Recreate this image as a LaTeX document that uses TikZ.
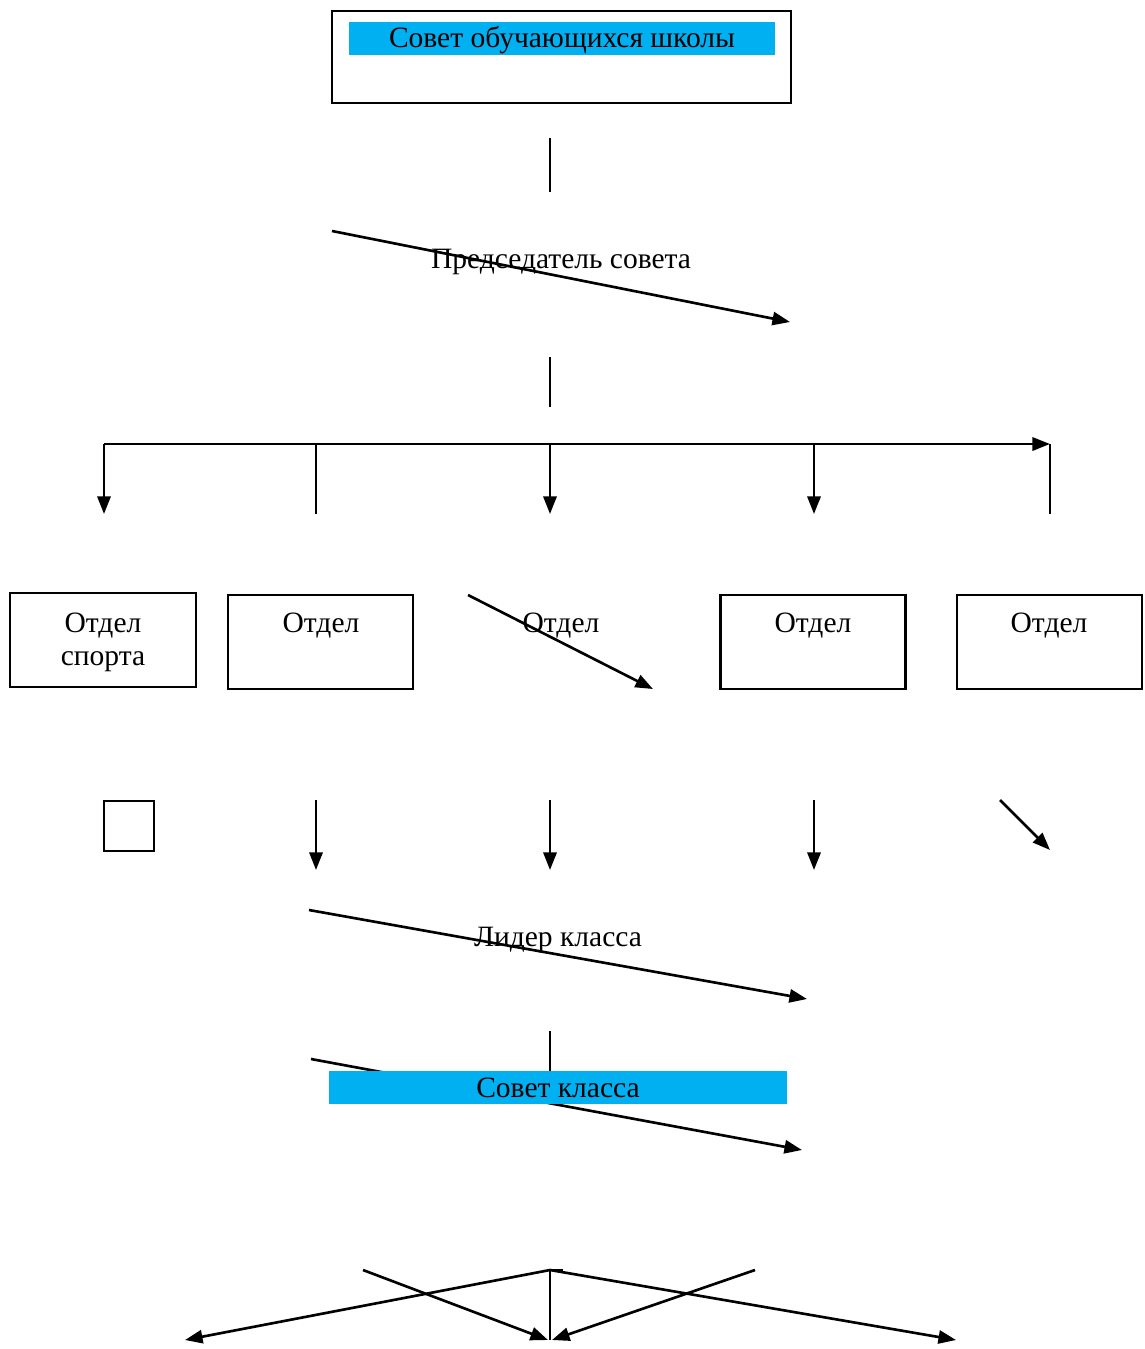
\documentclass[tikz,border=0pt]{standalone}
\usepackage{fontspec}
\setmainfont{Liberation Serif}
\usepackage{tikz}
\usetikzlibrary{arrows.meta}
\definecolor{C0}{HTML}{00B0F0}
\tikzstyle{box} = [draw, line width=1.2pt, inner sep=0pt]
\tikzstyle{bar} = [fill=C0, inner sep=0pt]
\tikzstyle{txt} = [inner sep=0pt, anchor=base, font=\fontsize{16.8}{19}\selectfont]
\tikzstyle{arr} = [line width=1.5pt, -{Triangle[length=10pt,width=7.5pt]}]
\tikzstyle{ln} = [line width=0.9pt]

\begin{document}
\begin{tikzpicture}[x=0.02cm, y=-0.02cm]
	\useasboundingbox (0,0) rectangle (1144,1349);
	
	% top
	\node[box, minimum width=9.18cm, minimum height=1.84cm] (school) at (561.5,57) {} ;
	\node[bar, minimum width=8.52cm, minimum height=0.66cm] (schoolbar) at (562,38.5) {} ;
	\node[txt] (schooltxt) at (562,47) {Совет обучающихся школы} ;
	\coordinate (s1) at (550,138) ;
	\coordinate (s2) at (550,192) ;
	\draw[ln] (s1) -- (s2) ;
	
	% chairman
	\node[txt] (chair) at (561,268) {Председатель совета} ;
	\coordinate (c1) at (332,231) ;
	\coordinate (c2) at (790,322) ;
	\draw[arr] (c1) -- (c2) ;
	\coordinate (c3) at (550,357) ;
	\coordinate (c4) at (550,407) ;
	\draw[ln] (c3) -- (c4) ;
	
	% branch
	\foreach \n/\x in {1/104, 2/316, 3/550, 4/814, 5/1050}
	{
		\coordinate (T\n) at (\x,444) ;
		\coordinate (B\n) at (\x,514) ;
	}
	\draw[arr] (T1) -- (T5) ;
	\foreach \n in {1, 3, 4}
	{
		\draw[arr] (T\n) -- (B\n) ;
	}
	\foreach \n in {2, 5}
	{
		\draw[ln] (T\n) -- (B\n) ;
	}
	
	% departments
	\node[box, minimum width=3.72cm, minimum height=1.88cm] (D1) at (103,640) {} ;
	\foreach \n/\x in {2/320.5, 4/813, 5/1049.5}
	{
		\node[box, minimum width=3.7cm, minimum height=1.88cm] (D\n) at (\x,642) {} ;
	}
	\node[txt] (D1a) at (103,632) {Отдел} ;
	\node[txt] (D1b) at (103,665) {спорта} ;
	\foreach \n/\x in {2/321, 3/561, 4/813, 5/1049}
	{
		\node[txt] (L\n) at (\x,632) {Отдел} ;
	}
	\coordinate (d1) at (468,595) ;
	\coordinate (d2) at (653,689) ;
	\draw[arr] (d1) -- (d2) ;
	
	% lower row
	\node[box, line width=0.9pt, minimum width=1cm, minimum height=1cm] (sq) at (129,826) {} ;
	\foreach \n/\x in {2/316, 3/550, 4/814}
	{
		\coordinate (U\n) at (\x,800) ;
		\coordinate (V\n) at (\x,870) ;
		\draw[arr] (U\n) -- (V\n) ;
	}
	\coordinate (U5) at (1000,800) ;
	\coordinate (V5) at (1050,850) ;
	\draw[arr] (U5) -- (V5) ;
	
	% class leader
	\coordinate (l1) at (309,910) ;
	\coordinate (l2) at (807,999) ;
	\draw[arr] (l1) -- (l2) ;
	\node[txt] (leader) at (558,946) {Лидер класса} ;
	\coordinate (l3) at (550,1031) ;
	\coordinate (l4) at (550,1071) ;
	\draw[ln] (l3) -- (l4) ;
	
	% class council
	\coordinate (k1) at (311,1059) ;
	\coordinate (k2) at (802,1150) ;
	\draw[arr] (k1) -- (k2) ;
	\node[bar, minimum width=9.16cm, minimum height=0.66cm] (classbar) at (558,1087.5) {} ;
	\node[txt] (classtxt) at (558,1097) {Совет класса} ;
	
	% fan
	\coordinate (F) at (550,1270) ;
	\coordinate (F') at (563,1270) ;
	\coordinate (G) at (550,1340) ;
	\coordinate (G1) at (185,1340) ;
	\coordinate (G2) at (956,1340) ;
	\coordinate (H1) at (363,1270) ;
	\coordinate (H2) at (755,1270) ;
	\coordinate (G3) at (548,1340) ;
	\coordinate (G4) at (552,1340) ;
	\draw[ln] (F) -- (F') ;
	\draw[ln] (F) -- (G) ;
	\draw[arr] (F) -- (G1) ;
	\draw[arr] (F) -- (G2) ;
	\draw[arr] (H1) -- (G3) ;
	\draw[arr] (H2) -- (G4) ;
\end{tikzpicture}
\end{document}
